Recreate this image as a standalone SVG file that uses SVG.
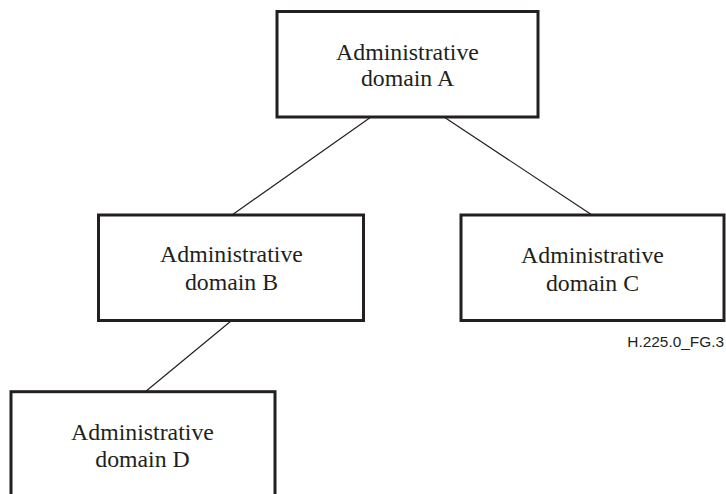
<svg xmlns="http://www.w3.org/2000/svg" width="726" height="494" viewBox="0 0 726 494">
<style>
.box{fill:#fff;stroke:#231f20;stroke-width:3}
.lbl{font-family:"Liberation Serif","Times New Roman",serif;font-size:23.8px;fill:#231f20;text-anchor:middle}
.conn{stroke:#231f20;stroke-width:1.2;fill:none}
.tag{font-family:"Liberation Sans",Arial,sans-serif;font-size:15.4px;fill:#231f20;text-anchor:end}
</style>
<rect width="726" height="494" fill="#fff"/>
<g id="connectors">
<line class="conn" x1="371" y1="117" x2="232" y2="215"/>
<line class="conn" x1="444" y1="117" x2="592" y2="215"/>
<line class="conn" x1="231" y1="321" x2="145" y2="392"/>
</g>
<g id="nodeA">
<rect class="box" x="277" y="11.5" width="261" height="105.5"/>
<text class="lbl" x="407.5" y="60">Administrative</text>
<text class="lbl" x="407.5" y="86">domain A</text>
</g>
<g id="nodeB">
<rect class="box" x="98.5" y="215" width="265" height="105.5"/>
<text class="lbl" x="231.5" y="262">Administrative</text>
<text class="lbl" x="231.5" y="290">domain B</text>
</g>
<g id="nodeC">
<rect class="box" x="461" y="215" width="263" height="105.5"/>
<text class="lbl" x="592.5" y="262.5">Administrative</text>
<text class="lbl" x="592.5" y="290.5">domain C</text>
</g>
<g id="nodeD">
<rect class="box" x="11" y="391.7" width="264" height="110"/>
<text class="lbl" x="142.5" y="440">Administrative</text>
<text class="lbl" x="142.5" y="467">domain D</text>
</g>
<text class="tag" x="724" y="346.5">H.225.0_FG.3</text>
</svg>
